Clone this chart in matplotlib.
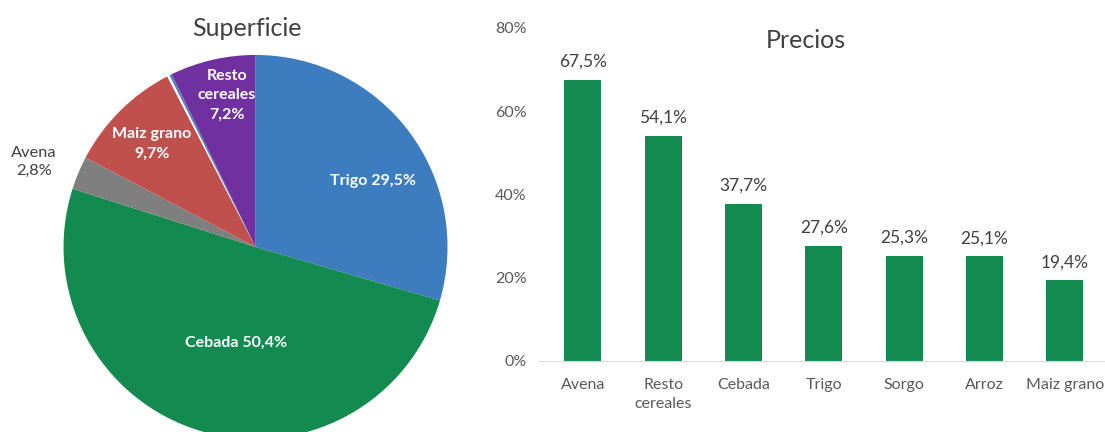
import matplotlib
matplotlib.use("Agg")
import matplotlib.pyplot as plt

plt.rcParams['font.family'] = ['Lato', 'DejaVu Sans']

# Pie data (Superficie)
pie_labels = ['Trigo', 'Cebada', 'Avena', 'Maiz grano', 'Arroz', 'Sorgo', 'Resto cereales']
pie_values = [29.5, 50.4, 2.8, 9.7, 0.2, 0.2, 7.2]
pie_colors = ['#3E7CC0', '#138A50', '#7F7F7F', '#C0504D', '#FFFFFF', '#4F81BD', '#7030A0']

# Bar data (Precios)
bar_cats = ['Avena', 'Resto\ncereales', 'Cebada', 'Trigo', 'Sorgo', 'Arroz', 'Maiz grano']
bar_values = [67.5, 54.1, 37.7, 27.6, 25.3, 25.1, 19.4]

fig = plt.figure(figsize=(11.05, 4.32), dpi=100)

# ---- pie ----
ax1 = fig.add_axes([0.0575, -0.0162, 0.3475, 0.889])
wedges, _ = ax1.pie(pie_values, colors=pie_colors, startangle=90, counterclock=False,
                    radius=1, wedgeprops=dict(linewidth=0))
ax1.set_xlim(-1, 1)
ax1.set_ylim(-1, 1)
ax1.set_aspect('auto')
ax1.axis('off')

white_kw = dict(color='white', fontweight='bold', fontsize=11.5, ha='center', va='center')
ax1.text(0.612, 0.344, 'Trigo 29,5%', **white_kw)
ax1.text(-0.10, -0.50, 'Cebada 50,4%', **white_kw)
ax1.text(-0.54, 0.536, 'Maiz grano\n9,7%', linespacing=1.5, **white_kw)
ax1.text(-0.15, 0.79, 'Resto\ncereales\n7,2%', linespacing=1.5, **white_kw)
ax1.text(-1.154, 0.443, 'Avena\n2,8%', color='#404040', fontsize=11.8, ha='center',
         va='center', linespacing=1.4)

fig.text(247 / 1105, 1 - 29 / 432, 'Superficie', fontsize=18, color='#404040',
         ha='center', va='center')

# ---- bars ----
ax2 = fig.add_axes([0.491, 0.1644, 0.509, 0.771])
x = range(len(bar_cats))
bars = ax2.bar(x, [v / 100 for v in bar_values], width=0.46, color='#138A50')
for b, v in zip(bars, bar_values):
    ax2.text(b.get_x() + b.get_width() / 2, b.get_height() + 0.024,
             f"{v:.1f}%".replace('.', ','), ha='center', va='bottom',
             fontsize=12.5, color='#404040')

ax2.set_xlim(-0.5, len(bar_cats) - 0.5)
ax2.set_ylim(0, 0.8)
ax2.set_yticks([0, 0.2, 0.4, 0.6, 0.8])
ax2.set_yticklabels(['0%', '20%', '40%', '60%', '80%'])
ax2.set_xticks(list(x))
ax2.set_xticklabels(bar_cats, linespacing=1.45)
ax2.tick_params(axis='both', length=0, labelsize=11.5, colors='#595959')
ax2.tick_params(axis='y', pad=11.5)
ax2.tick_params(axis='x', pad=12)
for s in ['top', 'right', 'left']:
    ax2.spines[s].set_visible(False)
ax2.spines['bottom'].set_color('#D9D9D9')
ax2.spines['bottom'].set_bounds(-0.55, len(bar_cats) - 0.5)

fig.text(806 / 1105, 1 - 40 / 432, 'Precios', fontsize=18, color='#404040',
         ha='center', va='center')

fig.savefig('out.png', dpi=100)
